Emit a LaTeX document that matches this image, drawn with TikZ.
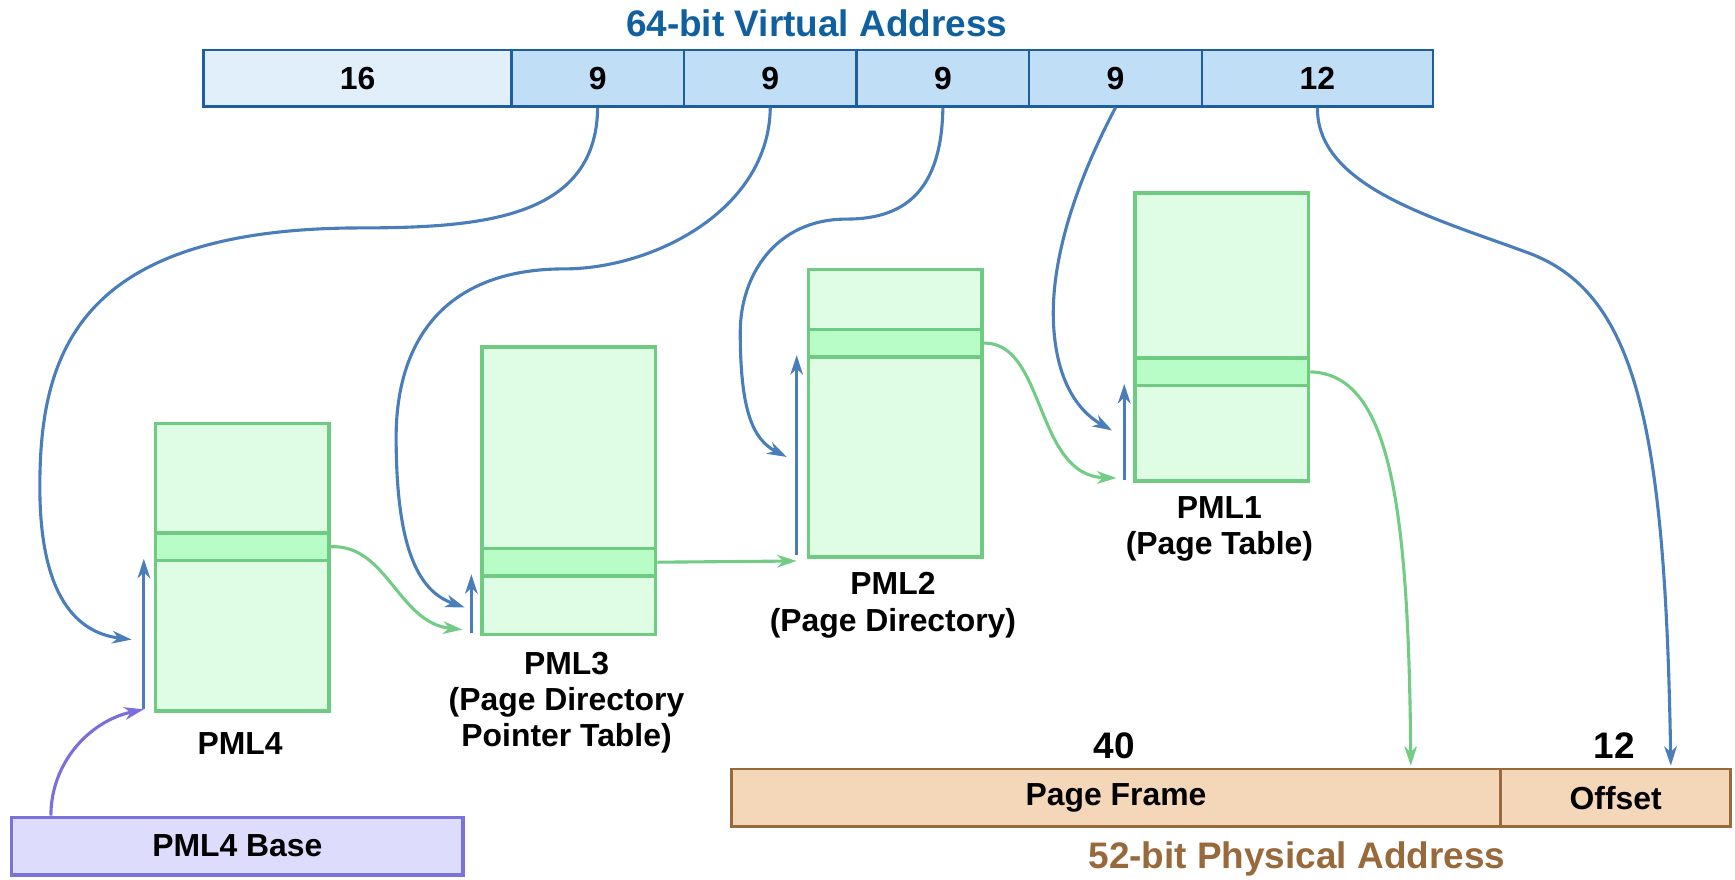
\documentclass[tikz,border=0pt]{standalone}
\usepackage{fontspec}
\setmainfont{Liberation Sans}
\usetikzlibrary{arrows.meta}
\definecolor{vtitle}{HTML}{1060A0}
\definecolor{vbord}{HTML}{1D5E9E}
\definecolor{vfillA}{HTML}{E1EFFB}
\definecolor{vfillB}{HTML}{C0DFF6}
\definecolor{barrow}{HTML}{4A7EBA}
\definecolor{gbord}{HTML}{70CB82}
\definecolor{gfill}{HTML}{DFFCE5}
\definecolor{ghl}{HTML}{B8FDC8}
\definecolor{garrow}{HTML}{72CC85}
\definecolor{pfill}{HTML}{DDDCFD}
\definecolor{pbord}{HTML}{7A74DA}
\definecolor{parrow}{HTML}{7A6FDB}
\definecolor{bfill}{HTML}{F3D7B8}
\definecolor{bbord}{HTML}{98693A}
\definecolor{btitle}{HTML}{98693A}
\begin{document}
\begin{tikzpicture}[x=0.02cm,y=-0.02cm,
  txt/.style={font=\fontsize{16.4}{18.7}\selectfont\bfseries, align=center, inner sep=0pt},
  ttl/.style={font=\fontsize{19}{22}\selectfont\bfseries, inner sep=0pt},
  vcell/.style={draw=vbord, line width=1.3pt, fill=vfillB, anchor=north west, minimum height=1.02cm, inner sep=0pt, font=\fontsize{16.4}{18.7}\selectfont\bfseries},
  ptable/.style={draw=gbord, line width=1.8pt, fill=gfill, anchor=north west, minimum width=3.14cm, minimum height=5.2cm, inner sep=0pt},
  pentry/.style={draw=gbord, line width=1.8pt, fill=ghl, anchor=north west, minimum width=3.14cm, minimum height=0.5cm, inner sep=0pt},
  bcell/.style={draw=bbord, line width=1.3pt, fill=bfill, anchor=north west, minimum height=1.04cm, inner sep=0pt, font=\fontsize{16.4}{18.7}\selectfont\bfseries},
  barr/.style={draw=barrow, line width=1.6pt, -{Stealth[length=10pt,width=6.5pt,inset=3pt]}},
  garr/.style={draw=garrow, line width=1.6pt, -{Stealth[length=10pt,width=6.5pt,inset=3pt]}},
  parr/.style={draw=parrow, line width=1.6pt, -{Stealth[length=10pt,width=6.5pt,inset=3pt]}}
]
\useasboundingbox (0,0) rectangle (1568,794.4);

% virtual address
\node[ttl, text=vtitle] (vtitle) at (738,21) {64-bit Virtual Address};
\node[vcell, fill=vfillA, minimum width=5.56cm] (c16) at (183,44) {16};
\node[vcell, minimum width=3.12cm] (c9a) at (461,44) {9};
\node[vcell, minimum width=3.12cm] (c9b) at (617,44) {9};
\node[vcell, minimum width=3.12cm] (c9c) at (773,44) {9};
\node[vcell, minimum width=3.12cm] (c9d) at (929,44) {9};
\node[vcell, minimum width=4.18cm] (c12) at (1085,44) {12};

% tables
\node[ptable] (pml4) at (139,381) {};
\node[pentry] (e4) at (139,480) {};
\node[ptable] (pml3) at (434,312) {};
\node[pentry] (e3) at (434,494) {};
\node[ptable] (pml2) at (729,242) {};
\node[pentry] (e2) at (729,296) {};
\node[ptable] (pml1) at (1024,173) {};
\node[pentry] (e1) at (1024,322) {};

\node[txt] (l4) at (217,672) {PML4};
\node[txt] (l3) at (512,635) {PML3\\(Page Directory\\Pointer Table)};
\node[txt] (l2) at (807,547) {PML2\\(Page Directory)};
\node[txt] (l1) at (1102,478) {PML1\\(Page Table)};

% physical address
\node[bcell, minimum width=13.9cm] (frame) at (660,694) {Page Frame};
\node[bcell, minimum width=4.16cm] (off) at (1355,694) {Offset};
\node[ttl] (n40) at (1007,674) {40};
\node[ttl] (n12) at (1459,674) {12};
\node[ttl, text=btitle] (ptitle) at (1172,776) {52-bit Physical Address};

% base
\node[draw=pbord, line width=1.8pt, fill=pfill, anchor=north west, minimum width=8.16cm, minimum height=1.04cm, inner sep=0pt, font=\fontsize{16.4}{18.7}\selectfont\bfseries] (base) at (9,737) {PML4 Base};

% coordinates
\coordinate (i4b) at (130,641); \coordinate (i4t) at (130,505);
\coordinate (i3b) at (426,572); \coordinate (i3t) at (426,519);
\coordinate (i2b) at (720,502); \coordinate (i2t) at (720,321);
\coordinate (i1b) at (1016,434); \coordinate (i1t) at (1016,347);
\coordinate (t4) at (119,578);
\coordinate (t3) at (420,549);
\coordinate (t2) at (711,413);
\coordinate (t1) at (1005,389);
\coordinate (g3) at (418,569);
\coordinate (g2) at (720,507);
\coordinate (g1) at (1009,432);
\coordinate (bs) at (46,737);
\coordinate (pf) at (1275,692);
\coordinate (po) at (1510,692);

% index arrows (vertical)
\draw[barr] (i4b) -- (i4t);
\draw[barr] (i3b) -- (i3t);
\draw[barr] (i2b) -- (i2t);
\draw[barr] (i1b) -- (i1t);

% virtual address fields to tables
\draw[barr] (c9a.south) .. controls (539,200) and (430,206) .. (320,206)
  .. controls (70,208) and (36,320) .. (36,440)
  .. controls (36,540) and (70,572) .. (t4);
\draw[barr] (c9b.south) .. controls (695,190) and (590,243) .. (510,243)
  .. controls (400,243) and (358,310) .. (358,395)
  .. controls (358,500) and (380,535) .. (t3);
\draw[barr] (c9c.south) .. controls (851,170) and (820,198) .. (765,198)
  .. controls (700,198) and (669,250) .. (669,300)
  .. controls (669,370) and (680,397) .. (t2);
\draw[barr] (c9d.south) .. controls (975,160) and (950,230) .. (952,290)
  .. controls (954,345) and (975,372) .. (t1);
\draw[barr] (c12.south) .. controls (1190,170) and (1300,198) .. (1385,230)
  .. controls (1480,268) and (1505,390) .. (po);

% entries to next tables
\draw[garr] (e4.east) .. controls (350,492) and (360,563) .. (g3);
\draw[garr] (e3.east) -- (g2);
\draw[garr] (e2.east) .. controls (945,309) and (935,430) .. (g1);
\draw[garr] (e1.east) .. controls (1255,338) and (1273,450) .. (pf);

% base
\draw[parr] (bs) .. controls (46,690) and (80,652) .. (i4b);
\end{tikzpicture}
\end{document}
